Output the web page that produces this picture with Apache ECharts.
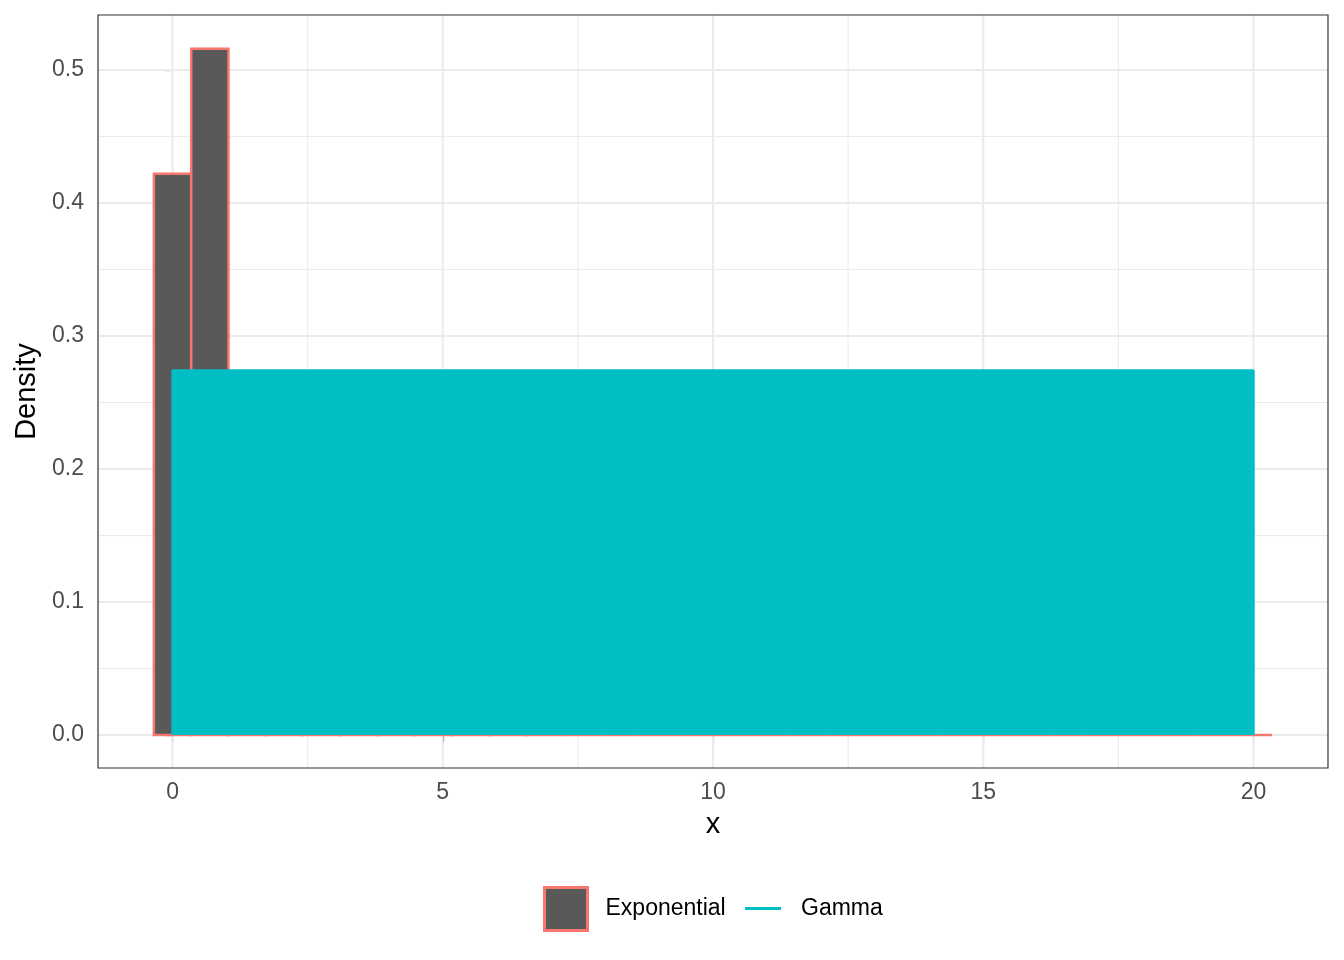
<!DOCTYPE html>
<html><head><meta charset="utf-8">
<script src="https://cdn.jsdelivr.net/npm/echarts@6/dist/echarts.min.js"></script>
<style>html,body{margin:0;padding:0;background:#fff}#c{width:1344px;height:960px}</style>
</head><body><div id="c"></div>
<script>
// Histogram of the exponential sample (30 bins, density scale)
const binCenters = [0, 0.69, 1.38, 2.07, 2.76, 3.45, 4.14, 4.83, 5.52, 6.21, 6.90, 7.59, 8.28, 8.97, 9.66,
  10.34, 11.03, 11.72, 12.41, 13.10, 13.79, 14.48, 15.17, 15.86, 16.55, 17.24, 17.93, 18.62, 19.31, 20.00];
const binWidth = 0.6897;
const expDensity = [0.422, 0.516, 0.257, 0.129, 0.065, 0.032, 0.016, 0.008, 0.004, 0.002, 0.001, 0, 0, 0, 0,
  0, 0, 0, 0, 0, 0, 0, 0, 0, 0, 0, 0, 0, 0, 0];
// Gamma line (dense oscillation between 0 and its peak, drawn as its envelope)
const gammaX = [0, 0, 20, 20];
const gammaY = [0, 0.274, 0.274, 0];
// Axis ticks
const xTicks = [0, 5, 10, 15, 20];
const yTicks = [0, 0.1, 0.2, 0.3, 0.4, 0.5];
const xMinor = [2.5, 7.5, 12.5, 17.5];
const yMinor = [0.05, 0.15, 0.25, 0.35, 0.45];

const FONT = '"Liberation Sans", Arial, Helvetica, sans-serif';
const chart = echarts.init(document.getElementById('c'), null, {renderer: 'canvas'});

function vLine(width) {
  return function (params, api) {
    const cs = params.coordSys;
    const x = api.coord([api.value(0), 0])[0];
    return {type: 'line', shape: {x1: x, y1: cs.y, x2: x, y2: cs.y + cs.height},
      style: {stroke: '#EBEBEB', lineWidth: width}, silent: true};
  };
}
function hLine(width) {
  return function (params, api) {
    const cs = params.coordSys;
    const y = api.coord([0, api.value(1)])[1];
    return {type: 'line', shape: {x1: cs.x, y1: y, x2: cs.x + cs.width, y2: y},
      style: {stroke: '#EBEBEB', lineWidth: width}, silent: true};
  };
}

const option = {
  backgroundColor: '#ffffff',
  animation: false,
  grid: {left: 98, top: 15, right: 16, bottom: 192, show: true, borderColor: '#333333', borderWidth: 1.2, backgroundColor: 'transparent', z: 10},
  xAxis: {
    type: 'value', min: -1.379, max: 21.379,
    name: 'x', nameLocation: 'middle', nameGap: 42,
    nameTextStyle: {fontSize: 29, color: '#000', fontFamily: FONT},
    axisLine: {show: false},
    axisTick: {show: true, customValues: xTicks, length: 7, lineStyle: {color: '#333333', width: 1.2}},
    axisLabel: {customValues: xTicks, fontSize: 23, color: '#4D4D4D', fontFamily: FONT, margin: 13},
    splitLine: {show: false}
  },
  yAxis: {
    type: 'value', min: -0.0248, max: 0.5414,
    name: 'Density', nameLocation: 'middle', nameGap: 56, nameRotate: 90,
    nameTextStyle: {fontSize: 29, color: '#000', fontFamily: FONT},
    axisLine: {show: false},
    axisTick: {show: true, customValues: yTicks, length: 7, lineStyle: {color: '#333333', width: 1.2}},
    axisLabel: {customValues: yTicks, fontSize: 23, color: '#4D4D4D', fontFamily: FONT, margin: 14,
      formatter: v => v.toFixed(1)},
    splitLine: {show: false}
  },
  legend: [
    {
      data: [{name: 'Exponential', icon: 'rect', itemStyle: {color: '#595959', borderColor: '#F8766D', borderWidth: 3}}],
      left: 543, top: 886, orient: 'horizontal', padding: 0,
      itemWidth: 43, itemHeight: 43, selectedMode: false,
      textStyle: {fontSize: 23, color: '#000', fontFamily: FONT, padding: [0, 0, 0, 13]}
    },
    {
      data: [{name: 'Gamma', icon: 'rect', itemStyle: {color: '#00BFC4', borderWidth: 0}}],
      left: 745, top: 897, orient: 'horizontal', padding: 0,
      itemWidth: 36, itemHeight: 3, selectedMode: false,
      textStyle: {fontSize: 23, color: '#000', fontFamily: FONT, padding: [0, 0, 0, 15]}
    }
  ],
  series: [
    {type: 'custom', name: 'gridMinorX', z: 0, silent: true, renderItem: vLine(1), data: xMinor.map(v => [v, 0])},
    {type: 'custom', name: 'gridMinorY', z: 0, silent: true, renderItem: hLine(1), data: yMinor.map(v => [0, v])},
    {type: 'custom', name: 'gridMajorX', z: 1, silent: true, renderItem: vLine(2), data: xTicks.map(v => [v, 0])},
    {type: 'custom', name: 'gridMajorY', z: 1, silent: true, renderItem: hLine(2), data: yTicks.map(v => [0, v])},
    {
      type: 'custom', name: 'Exponential', z: 2,
      itemStyle: {color: '#595959', borderColor: '#F8766D'},
      renderItem: function (params, api) {
        const c = api.value(0), d = api.value(1);
        const p0 = api.coord([c - binWidth / 2, d]);
        const p1 = api.coord([c + binWidth / 2, 0]);
        return {type: 'rect', shape: {x: p0[0], y: p0[1], width: p1[0] - p0[0], height: p1[1] - p0[1]},
          style: {fill: '#595959', stroke: '#F8766D', lineWidth: 2.5}};
      },
      data: binCenters.map((c, i) => [c, expDensity[i]])
    },
    {
      type: 'line', name: 'Gamma', z: 3,
      color: '#00BFC4',
      symbol: 'none', showSymbol: false,
      lineStyle: {color: '#00BFC4', width: 2.5},
      areaStyle: {color: '#00BFC4', opacity: 1},
      data: gammaX.map((x, i) => [x, gammaY[i]])
    }
  ]
};
chart.setOption(option);
</script>
</body></html>
